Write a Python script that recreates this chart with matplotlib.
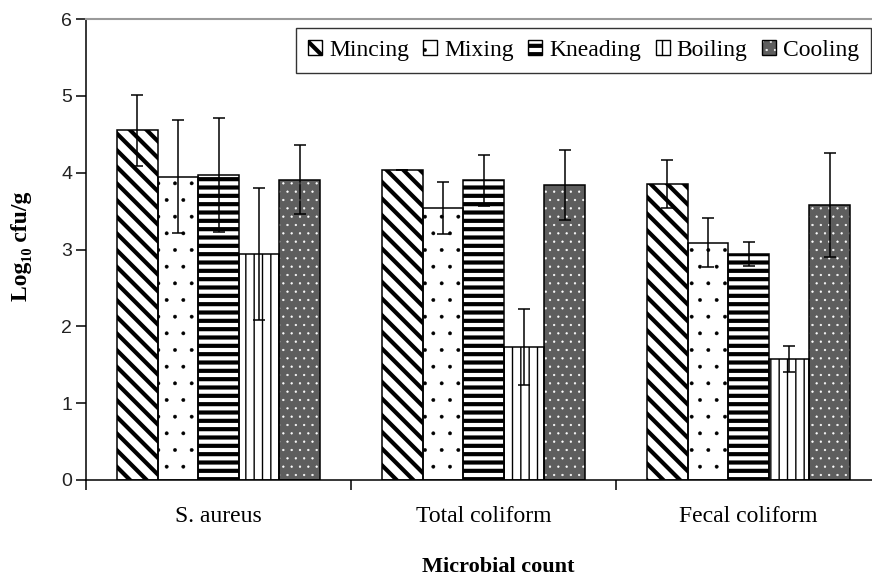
import matplotlib
matplotlib.use("Agg")
import matplotlib.pyplot as plt
import numpy as np
from matplotlib.patches import Patch, Rectangle
from matplotlib.legend_handler import HandlerPatch

# Microbial counts (log10 cfu/g) at each processing stage
categories = ["S. aureus", "Total coliform", "Fecal coliform"]
stages = ["Mincing", "Mixing", "Kneading", "Boiling", "Cooling"]

mincing = [4.55, 4.04, 3.85]
mixing = [3.95, 3.54, 3.09]
kneading = [3.97, 3.90, 2.94]
boiling = [2.94, 1.73, 1.57]
cooling = [3.91, 3.84, 3.58]

mincing_err = [0.46, 0.0, 0.31]
mixing_err = [0.73, 0.34, 0.32]
kneading_err = [0.74, 0.33, 0.16]
boiling_err = [0.86, 0.50, 0.17]
cooling_err = [0.45, 0.45, 0.68]

values = [mincing, mixing, kneading, boiling, cooling]
errors = [mincing_err, mixing_err, kneading_err, boiling_err, cooling_err]

# fill style per stage: (facecolor, hatch, hatch colour, hatch linewidth)
styles = [
    ("white", "\\\\", "black", 3.0),
    ("white", ".", "black", 0.3),
    ("white", "--", "black", 3.0),
    ("white", "||", "black", 1.0),
    ("#5e5e5e", "..", "white", 0.4),
]

serif = ["Liberation Serif", "DejaVu Serif"]
sans = ["Liberation Sans", "DejaVu Sans"]

fig = plt.figure(figsize=(8.72, 5.84), dpi=100)
W, H = 872, 584
ax = fig.add_axes([86 / W, (H - 480) / H, (881 - 86) / W, (480 - 19) / H])

x = np.arange(len(categories)) + 0.5
width = 0.153


def styled_bars(xpos, heights, style):
    face, hatch, hcol, hlw = style
    with plt.rc_context({"hatch.linewidth": hlw}):
        fill = ax.bar(xpos, heights, width, color=face, edgecolor=hcol,
                      hatch=hatch, linewidth=0, zorder=2)
    ax.bar(xpos, heights, width, facecolor="none", edgecolor="black",
           linewidth=1.1, zorder=3)
    return fill


class HatchHandler(HandlerPatch):
    """Legend swatch that keeps its own hatch line width."""

    def __init__(self, hatch_lw):
        super().__init__()
        self.hatch_lw = hatch_lw

    def _create_patch(self, legend, orig_handle, xdescent, ydescent,
                      width, height, fontsize):
        with plt.rc_context({"hatch.linewidth": self.hatch_lw}):
            p = Rectangle(xy=(-xdescent, -ydescent), width=width, height=height)
        return p


handles = []
handler_map = {}
for j, (vals, errs, st) in enumerate(zip(values, errors, styles)):
    xpos = x + (j - 2) * width
    styled_bars(xpos, vals, st)
    ax.errorbar(xpos, vals, yerr=errs, fmt="none", ecolor="black",
                elinewidth=1.1, capsize=4.5, capthick=1.1, zorder=4)
    face, hatch, hcol, hlw = st
    h_fill = Patch(facecolor=face, edgecolor=hcol, hatch=hatch, linewidth=0)
    h_edge = Patch(facecolor="none", edgecolor="black", linewidth=1.0)
    handler_map[h_fill] = HatchHandler(hlw)
    handles.append((h_fill, h_edge))

ax.set_xlim(0, 3)
ax.set_ylim(0, 6)
ax.set_yticks(range(0, 7))
ax.set_xticks([0, 1, 2, 3])
ax.set_xticklabels([])
ax.set_xticks(x, minor=True)
ax.set_xticklabels(categories, minor=True, fontfamily=serif, fontsize=17)
ax.tick_params(axis="x", which="minor", length=0, pad=19)
ax.tick_params(axis="x", which="major", length=7, width=1.1, direction="out")
ax.tick_params(axis="y", length=7, width=1.1, direction="out", pad=3)
for lab in ax.get_yticklabels():
    lab.set_fontfamily(sans)
    lab.set_fontsize(14)
    lab.set_color("#222222")

ax.spines["top"].set_color("#9a9a9a")
ax.spines["top"].set_linewidth(1.5)
ax.spines["right"].set_visible(False)
ax.spines["left"].set_linewidth(1.1)
ax.spines["bottom"].set_linewidth(1.1)

fig.text(498 / W, 1 - 567 / H, "Microbial count", ha="center", va="center",
         fontfamily=serif, fontweight="bold", fontsize=16)
fig.text(21 / W, 1 - 246 / H, "Log\u2081\u2080 cfu/g", ha="center", va="center",
         rotation=90, fontfamily=serif, fontweight="bold", fontsize=17)

leg = fig.legend(handles, stages, loc="upper right",
                 bbox_to_anchor=(871 / W, 1 - 28 / H),
                 bbox_transform=fig.transFigure, ncol=5,
                 handler_map=handler_map,
                 prop={"family": serif, "size": 17},
                 frameon=True, fancybox=False, shadow=False,
                 borderaxespad=0, handlelength=0.6, handleheight=0.6,
                 handletextpad=0.3, columnspacing=0.6, borderpad=0.5)
leg.get_frame().set_edgecolor("black")
leg.get_frame().set_linewidth(1.0)

fig.savefig("out.png", dpi=100)
